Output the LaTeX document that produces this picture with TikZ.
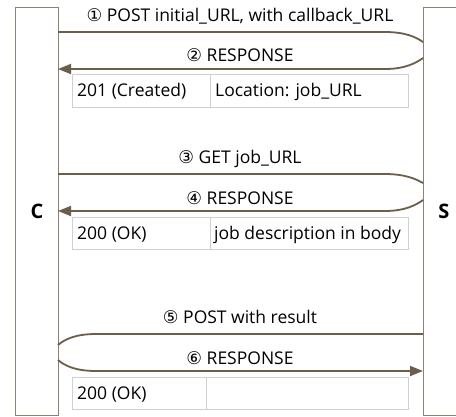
\documentclass[tikz,border=0pt]{standalone}
\usepackage{fontspec}
\setmainfont{Open Sans}
\newfontfamily\symfont{DejaVu Sans}
\usetikzlibrary{arrows.meta}
\definecolor{conn}{HTML}{6B5F4B}
\definecolor{boxc}{HTML}{8A8272}
\definecolor{cellc}{HTML}{D0D0D0}
\begin{document}
\begin{tikzpicture}[x=1pt,y=-1pt,
  party/.style={draw=boxc,line width=1pt,minimum width=43pt,minimum height=408pt,inner sep=0pt,anchor=north west},
  msg/.style={draw=conn,line width=1.8pt},
  arr/.style={msg,-{Triangle[length=13pt,width=10pt]}},
  cell/.style={draw=cellc,line width=1pt,inner sep=0pt,anchor=north west,minimum height=33pt},
  celltext/.style={font=\fontsize{17.5}{20}\selectfont,anchor=base west,inner sep=0pt},
  lbl/.style={font=\fontsize{17.5}{20}\selectfont,anchor=base,inner sep=0pt},
  who/.style={font=\fontsize{20}{22}\selectfont\bfseries,anchor=base,inner sep=0pt}]
\useasboundingbox (0,0) rectangle (456,416);
\fill[white] (0,0) rectangle (456,416);
% parties
\node[party] (C) at (15,7) {};
\node[party] (S) at (423,7) {};
\node[who] (Cl) at (37,218.5) {C};
\node[who] (Sl) at (444,218.5) {S};
% coordinates on the lifelines
\coordinate (c1) at (58,32);  \coordinate (s1) at (423,42);
\coordinate (s2) at (423,58); \coordinate (c2) at (58,69);
\coordinate (c3) at (58,174); \coordinate (s3) at (423,183);
\coordinate (s4) at (423,200);\coordinate (c4) at (58,211);
\coordinate (s5) at (423,334);\coordinate (c5) at (58,345);
\coordinate (c6) at (58,360); \coordinate (s6) at (423,371);
% messages
\draw[msg] (c1) -- (385,32) .. controls (405,32) and (416,37) .. (s1);
\draw[arr] (s2) .. controls (416,63) and (405,69) .. (385,69) -- (c2);
\draw[msg] (c3) -- (385,174) .. controls (405,174) and (416,179) .. (s3);
\draw[arr] (s4) .. controls (416,205) and (405,211) .. (385,211) -- (c4);
\draw[msg] (s5) -- (96,334) .. controls (76,334) and (65,339) .. (c5);
\draw[arr] (c6) .. controls (65,366) and (76,371) .. (96,371) -- (s6);
% labels
\node[lbl] (l1) at (240,21) {{\symfont ①} POST initial\_URL, with callback\_URL};
\node[lbl] (l2) at (240,61.5) {{\symfont ②} RESPONSE};
\node[lbl] (l3) at (240,163.5) {{\symfont ③} GET job\_URL};
\node[lbl] (l4) at (240,204) {{\symfont ④} RESPONSE};
\node[lbl] (l5) at (240,323.5) {{\symfont ⑤} POST with result};
\node[lbl] (l6) at (240,364) {{\symfont ⑥} RESPONSE};
% tables
\node[cell,minimum width=138pt] (t1a) at (72,74) {};
\node[cell,minimum width=198pt] (t1b) at (210,74) {};
\node[celltext] (t1at) at (77,96.5) {201 (Created)};
\node[celltext] (t1bt) at (215,96.5) {Location: job\_URL};
\node[cell,minimum width=138pt,minimum height=32pt] (t2a) at (72,217) {};
\node[cell,minimum width=198pt,minimum height=32pt] (t2b) at (210,217) {};
\node[celltext] (t2at) at (77,239) {200 (OK)};
\node[celltext] (t2bt) at (214,239) {job description in body};
\node[cell,minimum width=134pt,minimum height=32pt] (t3a) at (72,377) {};
\node[cell,minimum width=202pt,minimum height=32pt] (t3b) at (206,377) {};
\node[celltext] (t3at) at (77,399) {200 (OK)};
\end{tikzpicture}
\end{document}
